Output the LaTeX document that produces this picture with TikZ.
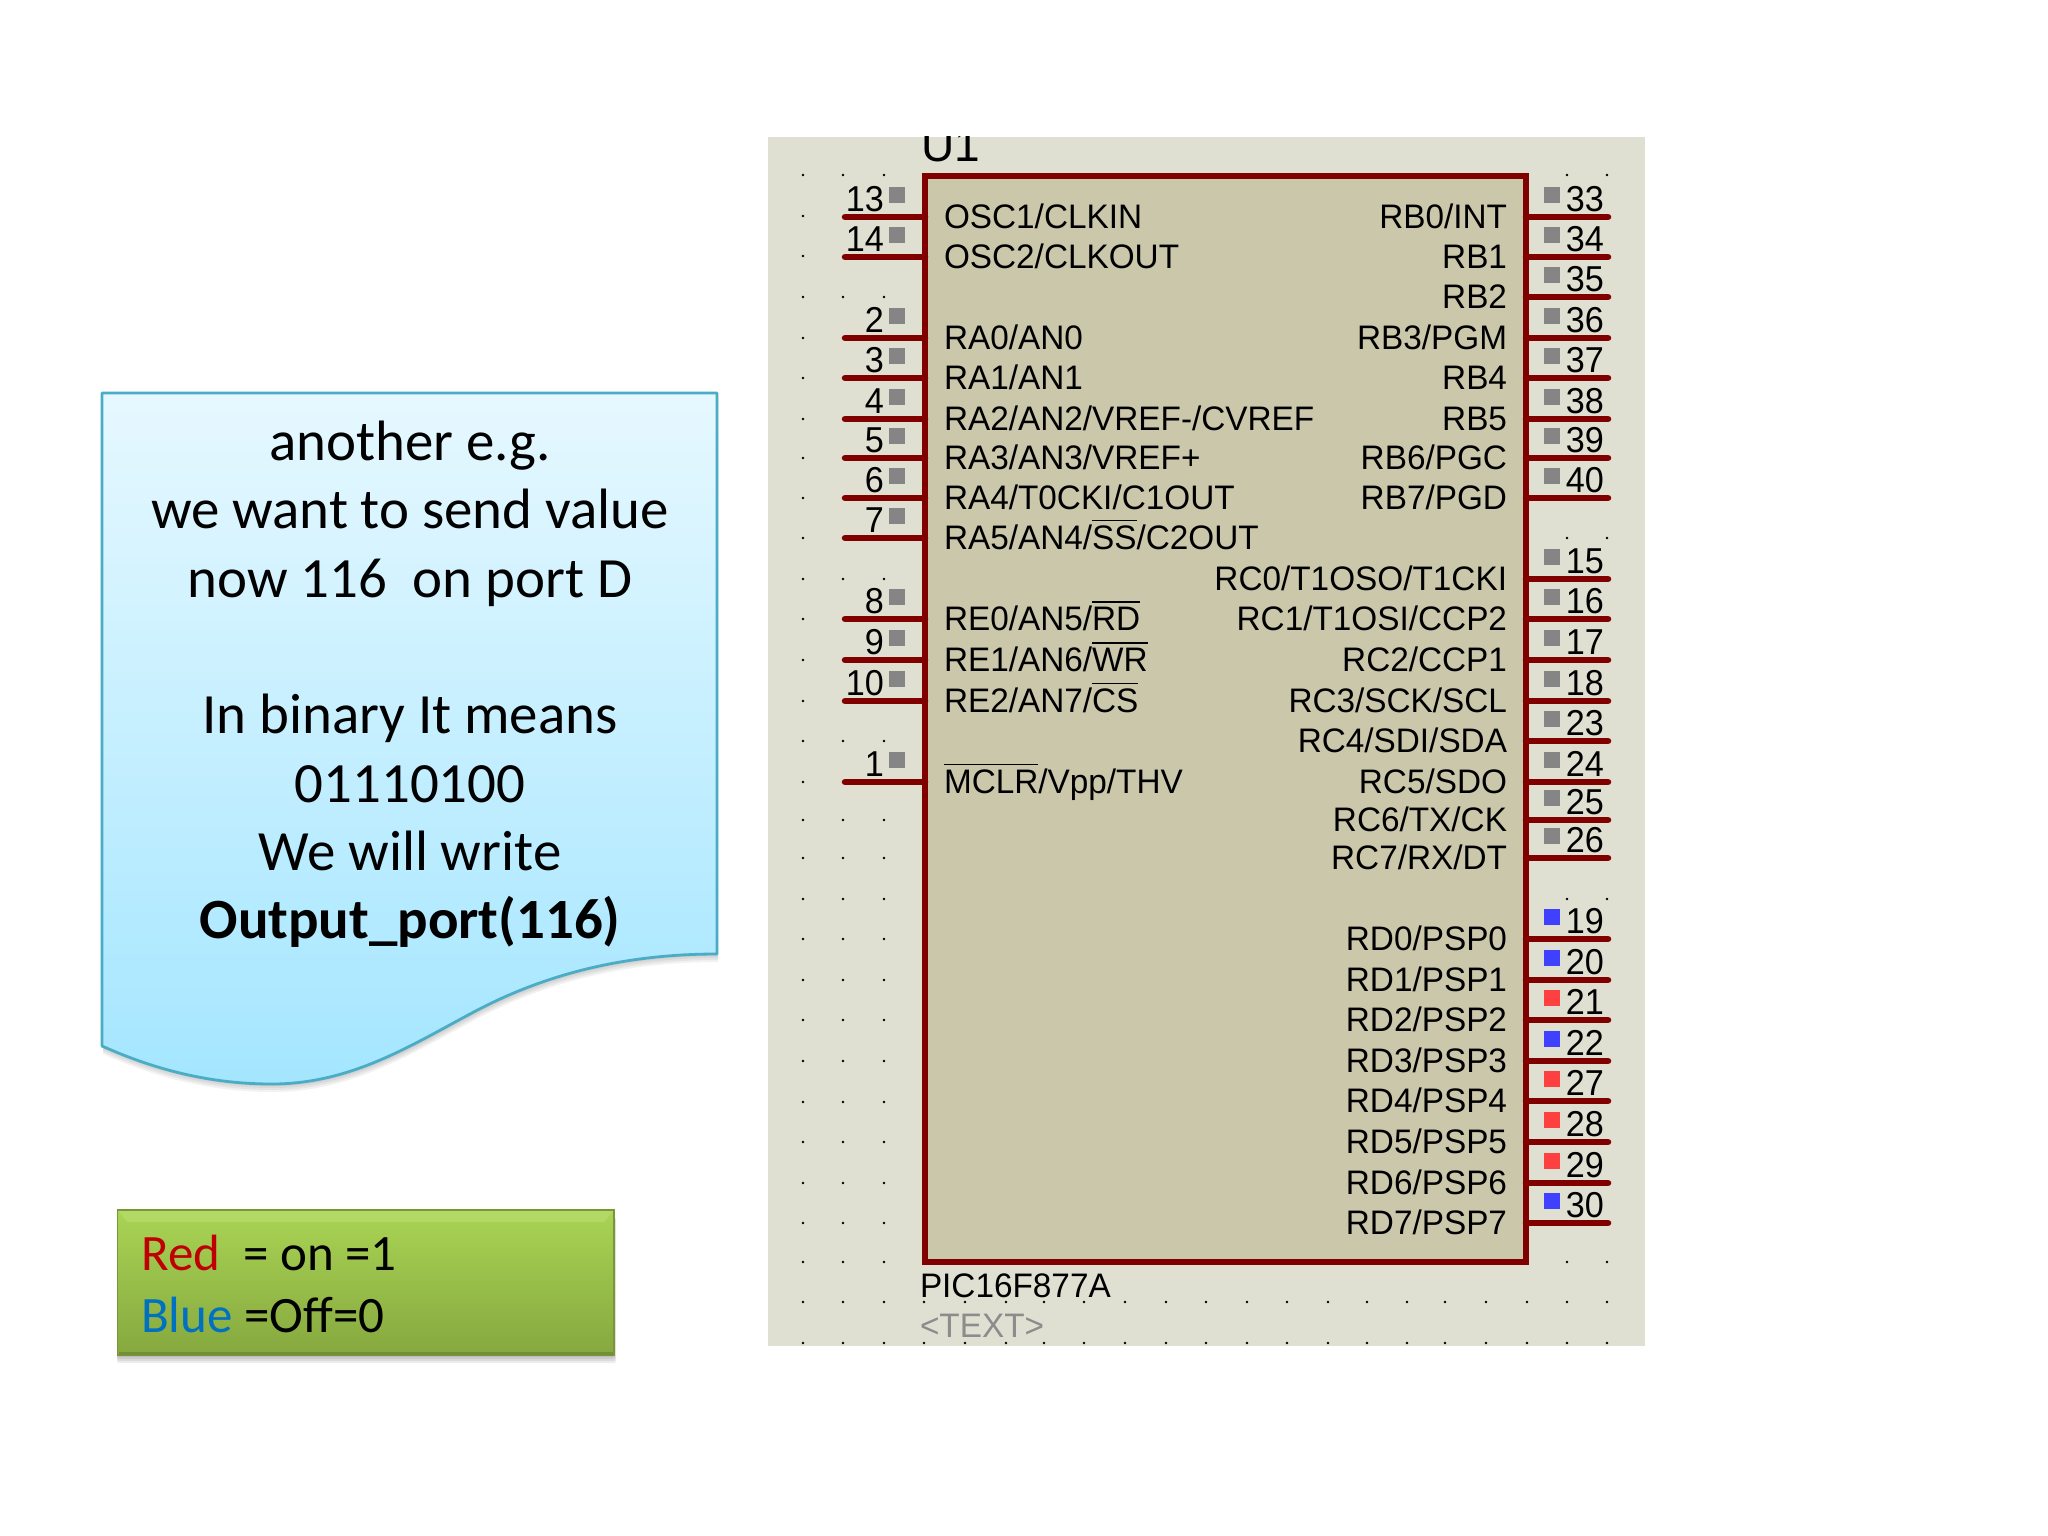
\documentclass[tikz,border=0pt]{standalone}
\usepackage{fontspec}
\setmainfont{Carlito}
\newfontfamily\pf[FakeStretch=0.98]{Liberation Sans}
\newfontfamily\pfn[FakeStretch=0.95]{Liberation Sans}
\definecolor{panelc}{HTML}{DFE0D1}
\definecolor{chipc}{HTML}{CBC7AB}
\definecolor{wirec}{HTML}{800000}
\definecolor{gry}{HTML}{858585}
\definecolor{blu}{HTML}{4040FF}
\definecolor{rd}{HTML}{FF4040}
\definecolor{txtgrey}{HTML}{8C8C8C}
\definecolor{calltop}{HTML}{E6F8FF}
\definecolor{callbot}{HTML}{A4E6FF}
\definecolor{callline}{HTML}{4BACC6}
\definecolor{greentop}{HTML}{A9D454}
\definecolor{greenbot}{HTML}{86A83F}
\definecolor{greenlight}{HTML}{B2D963}
\definecolor{redtxt}{HTML}{C00000}
\definecolor{bluetxt}{HTML}{0070C0}
\tikzset{
  x=1pt,y=-1pt,
  pintext/.style={inner sep=0pt,outer sep=0pt,font=\pf\fontsize{34}{40}\selectfont},
  pinnum/.style={inner sep=0pt,outer sep=0pt,font=\pfn\fontsize{36}{40}\selectfont},
  pinline/.style={draw=wirec,line width=6.5pt,line cap=round},
  marker/.style={inner sep=0pt,outer sep=0pt,minimum size=16pt},
  calltext/.style={inner sep=0pt,anchor=base,font=\fontsize{56.9}{68}\selectfont},
  greentext/.style={inner sep=0pt,anchor=base west,font=\fontsize{51}{60}\selectfont},
}
\newcommand\ovl[1]{\leavevmode\vbox{\hrule height 1.6pt\kern 4pt\hbox{#1}}}
% y, number, label
\newcommand\pinL[3]{%
  \coordinate (pl#2) at (845,#1);
  \draw[pinline] (pl#2) -- (pl#2 -| chip.west);
  \node[pintext,anchor=base west] (tl#2) at (944,#1+11) {#3};
  \node[pinnum,anchor=base east] (nl#2) at (884,#1-6) {#2};
  \node[marker,fill=gry] (ml#2) at (896.5,#1-22) {};
}
% y, number, label, marker colour
\newcommand\pinR[4]{%
  \coordinate (pr#2) at (1608,#1);
  \draw[pinline] (pr#2 -| chip.east) -- (pr#2);
  \node[pintext,anchor=base east] (tr#2) at (1507,#1+11) {#3};
  \node[pinnum,anchor=base east] (nr#2) at (1604,#1-6) {#2};
  \node[marker,fill=#4] (mr#2) at (1552,#1-22) {};
}
\begin{document}
\begin{tikzpicture}
\useasboundingbox (0,0) rectangle (2048,1536);
\fill[white] (0,0) rectangle (2048,1536);

% panel
\fill[panelc] (768,137) rectangle (1645,1346);

% grid dots
\foreach \yy in {175,216,256,297,338,378,419,458,498,538,579,619,660,701,741,782,820,858,899,939,980,1020,1061,1102,1142,1183,1223,1262,1302,1343}
  \fill (803,\yy) circle[radius=1.4];
\foreach \yy in {175,297,579,741,820,858,899,939,980,1020,1061,1102,1142,1183,1223,1262,1302,1343}
  \foreach \xx in {843,884}
    \fill (\xx,\yy) circle[radius=1.4];
\foreach \yy in {175,538,899,1262,1302,1343}
  \foreach \xx in {1567,1607}
    \fill (\xx,\yy) circle[radius=1.4];
\foreach \yy in {1302,1343}
  \foreach \xx in {924,965,1006,1044,1084,1125,1166,1206,1247,1287,1328,1367,1407,1445,1486,1527}
    \fill (\xx,\yy) circle[radius=1.4];

% chip
\node[draw=wirec,fill=chipc,line width=6pt,rectangle,inner sep=0pt,outer sep=0pt,
      minimum width=601pt,minimum height=1086pt] (chip) at (1225.5,719) {};

\begin{scope}
  \clip (768,137) rectangle (1645,1346);
  \node[inner sep=0pt,anchor=base west,font=\pf\fontsize{47}{50}\selectfont] (u1) at (921,161) {U1};
\end{scope}
\node[pintext,anchor=base west] (partname) at (920,1297) {PIC16F877A};
\node[pintext,anchor=base west,text=txtgrey] (parttext) at (920,1337) {<TEXT>};

% left pins
\pinL{217}{13}{OSC1/CLKIN}
\pinL{257}{14}{OSC2/CLKOUT}
\pinL{338}{2}{RA0/AN0}
\pinL{378}{3}{RA1/AN1}
\pinL{419}{4}{RA2/AN2/VREF-/CVREF}
\pinL{458}{5}{RA3/AN3/VREF+}
\pinL{498}{6}{RA4/T0CKI/C1OUT}
\pinL{538}{7}{RA5/AN4/\ovl{SS}/C2OUT}
\pinL{619}{8}{RE0/AN5/\ovl{RD}}
\pinL{660}{9}{RE1/AN6/\ovl{WR}}
\pinL{701}{10}{RE2/AN7/\ovl{CS}}
\pinL{782}{1}{\ovl{MCLR}/Vpp/THV}

% right pins
\pinR{217}{33}{RB0/INT}{gry}
\pinR{257}{34}{RB1}{gry}
\pinR{297}{35}{RB2}{gry}
\pinR{338}{36}{RB3/PGM}{gry}
\pinR{378}{37}{RB4}{gry}
\pinR{419}{38}{RB5}{gry}
\pinR{458}{39}{RB6/PGC}{gry}
\pinR{498}{40}{RB7/PGD}{gry}
\pinR{579}{15}{RC0/T1OSO/T1CKI}{gry}
\pinR{619}{16}{RC1/T1OSI/CCP2}{gry}
\pinR{660}{17}{RC2/CCP1}{gry}
\pinR{701}{18}{RC3/SCK/SCL}{gry}
\pinR{741}{23}{RC4/SDI/SDA}{gry}
\pinR{782}{24}{RC5/SDO}{gry}
\pinR{820}{25}{RC6/TX/CK}{gry}
\pinR{858}{26}{RC7/RX/DT}{gry}
\pinR{939}{19}{RD0/PSP0}{blu}
\pinR{980}{20}{RD1/PSP1}{blu}
\pinR{1020}{21}{RD2/PSP2}{rd}
\pinR{1061}{22}{RD3/PSP3}{blu}
\pinR{1101}{27}{RD4/PSP4}{rd}
\pinR{1142}{28}{RD5/PSP5}{rd}
\pinR{1183}{29}{RD6/PSP6}{rd}
\pinR{1223}{30}{RD7/PSP7}{blu}

% callout shadow
\foreach \d in {2,4,6,8}
  \fill[black,opacity=0.05,shift={(1,\d)}]
    (102,393) -- (717,393) -- (717,954)
    .. controls (620,954) and (540,976) .. (470,1014)
    .. controls (410,1046) and (350,1084) .. (272,1084)
    .. controls (215,1084) and (160,1072) .. (102,1046) -- cycle;
% callout
\path[top color=calltop,bottom color=callbot,draw=callline,line width=2.8pt,line join=round]
    (102,393) -- (717,393) -- (717,954)
    .. controls (620,954) and (540,976) .. (470,1014)
    .. controls (410,1046) and (350,1084) .. (272,1084)
    .. controls (215,1084) and (160,1072) .. (102,1046) -- cycle;
\node[calltext] (c1) at (410,460) {another e.g.};
\node[calltext] (c2) at (410,528) {we want to send value};
\node[calltext] (c3) at (410,597) {now 116~~on port D};
\node[calltext] (c4) at (410,733) {In binary It means};
\node[calltext] (c5) at (410,802) {01110100};
\node[calltext] (c6) at (410,870) {We will write};
\node[calltext] (c7) at (410,938) {\bfseries Output\_port(116)};

% green box
\foreach \d in {2,4,6,8}
  \fill[black,opacity=0.07,rounded corners=2pt] (117,1210+\d) rectangle (614+\d/4,1355+\d);
\path[top color=greentop,bottom color=greenbot] (117.5,1210) rectangle (614,1355);
\fill[greenlight] (117.5,1210) -- (614,1210) -- (604,1222) -- (127.5,1222) -- cycle;
\draw[greenbot!90!black,line width=1.2pt] (117.5,1210) rectangle (614,1355);
\fill[greenbot!85!black] (119,1352) rectangle (613,1355);
\node[greentext] (g1) at (141,1270) {\textcolor{redtxt}{Red}~~= on =1};
\node[greentext] (g2) at (141,1332) {\textcolor{bluetxt}{Blue} =Off=0};
\end{tikzpicture}
\end{document}
